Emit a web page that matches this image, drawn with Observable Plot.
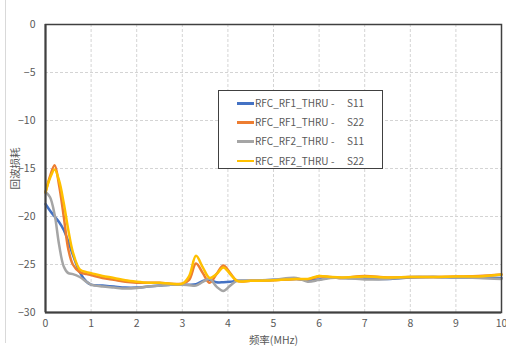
<!DOCTYPE html>
<html>
<head>
<meta charset="utf-8">
<script src="https://cdn.jsdelivr.net/npm/d3@7"></script>
<script src="https://cdn.jsdelivr.net/npm/@observablehq/plot@0.6"></script>
<style>
  html, body { margin: 0; padding: 0; background: #fff; }
  #chart { position: relative; width: 506px; height: 348px; overflow: hidden; }
  #chart .edge { position: absolute; left: 5px; top: 0; width: 1px; height: 343px; background: #d9d9d9; }
  #legend { position: absolute; left: 218px; top: 90px; width: 163px; height: 77px;
            border: 1px solid #404040; background: #fff;
            font-family: "Noto Sans CJK SC", "Noto Sans", sans-serif; font-size: 10px; color: #595959; }
  #legend .row { position: absolute; left: 0; width: 100%; height: 14px; }
  #legend .swatch { position: absolute; left: 18px; top: 6px; width: 17px; height: 2.5px; }
  #legend span { position: absolute; top: 0; line-height: 14px; white-space: pre; }
</style>
</head>
<body>
<div id="chart"><div class="edge"></div></div>
<script>
// Frequency sweep (MHz)
const freq = [0, 0.1, 0.2, 0.3, 0.4, 0.5, 0.6, 0.75, 0.9, 1, 1.25, 1.5, 1.75, 2, 2.25, 2.5, 2.75, 3,
  3.15, 3.3, 3.45, 3.6, 3.75, 3.9, 4.05, 4.2, 4.5, 5, 5.5, 5.75, 6, 6.25, 6.5, 7, 7.5, 8, 8.5, 9, 9.5, 10];

// Return loss (dB) for each port
const rf1S11 = [-18.7, -19.4, -20.0, -20.6, -21.4, -22.6, -24.0, -25.8, -26.8, -27.1, -27.2, -27.3, -27.4, -27.4, -27.3, -27.2, -27.1, -27.1,
  -27.1, -27.05, -26.7, -26.6, -26.85, -26.85, -26.8, -26.7, -26.7, -26.6, -26.5, -26.6, -26.55, -26.35, -26.4, -26.45, -26.5, -26.35, -26.3, -26.35, -26.35, -26.4];
const rf1S22 = [-17.5, -15.8, -14.65, -16.8, -20.0, -23.4, -25.0, -25.8, -26.0, -26.1, -26.4, -26.6, -26.8, -26.9, -26.9, -26.9, -27.0, -27.0,
  -26.6, -24.9, -25.9, -26.9, -26.0, -25.1, -25.9, -26.7, -26.7, -26.65, -26.5, -26.55, -26.25, -26.3, -26.4, -26.2, -26.35, -26.3, -26.3, -26.25, -26.2, -26.05];
const rf2S11 = [-17.4, -18.0, -19.8, -23.0, -25.2, -25.9, -26.0, -26.3, -26.8, -27.1, -27.3, -27.4, -27.5, -27.45, -27.3, -27.2, -27.1, -27.1,
  -27.15, -27.2, -26.8, -26.5, -27.3, -27.75, -27.2, -26.7, -26.7, -26.6, -26.4, -26.8, -26.6, -26.4, -26.4, -26.55, -26.5, -26.3, -26.3, -26.35, -26.4, -26.5];
const rf2S22 = [-17.5, -16.0, -15.1, -16.3, -18.6, -21.4, -23.7, -25.5, -25.8, -25.9, -26.2, -26.4, -26.65, -26.8, -26.9, -26.9, -27.0, -27.0,
  -26.2, -24.1, -25.3, -26.4, -26.0, -25.3, -26.0, -26.7, -26.7, -26.65, -26.5, -26.5, -26.2, -26.3, -26.35, -26.25, -26.35, -26.3, -26.3, -26.25, -26.25, -26.05];

const seriesNames = ["RFC_RF1_THRU", "RFC_RF1_THRU", "RFC_RF2_THRU", "RFC_RF2_THRU"];
const seriesParams = ["S11", "S22", "S11", "S22"];
const seriesValues = [rf1S11, rf1S22, rf2S11, rf2S22];
const seriesColors = ["#4472C4", "#ED7D31", "#A5A5A5", "#FFC000"];

const xTicks = [0, 1, 2, 3, 4, 5, 6, 7, 8, 9, 10];
const yTicks = [0, -5, -10, -15, -20, -25, -30];

// Long-format table: one row per (series, frequency)
const rows = seriesValues.flatMap((vals, i) =>
  vals.map((v, j) => ({series: i, key: seriesNames[i] + " - " + seriesParams[i], f: freq[j], rl: v})));

const font = "'Noto Sans CJK SC', 'Noto Sans', sans-serif";

const plot = Plot.plot({
  width: 506,
  height: 348,
  marginLeft: 45,
  marginRight: 5,
  marginTop: 24,
  marginBottom: 36,
  style: {fontFamily: font, fontSize: "10.5px", color: "#595959", background: "transparent"},
  x: {domain: [0, 10]},
  y: {domain: [-30, 0]},
  marks: [
    Plot.gridX(xTicks.slice(1, -1), {stroke: "#d4d4d4", strokeOpacity: 1, strokeDasharray: "3,2"}),
    Plot.gridY(yTicks.slice(1, -1), {stroke: "#d4d4d4", strokeOpacity: 1, strokeDasharray: "3,2"}),
    ...seriesValues.map((_, i) =>
      Plot.line(rows.filter(d => d.series === i), {
        x: "f", y: "rl", stroke: seriesColors[i], strokeWidth: 2.5, curve: "catmull-rom"
      })),
    Plot.frame({stroke: "#404040", strokeWidth: 1.5}),
    Plot.ruleX([0], {stroke: "#404040", strokeWidth: 2}),
    Plot.ruleY([-30], {stroke: "#404040", strokeWidth: 2}),
    Plot.axisX({ticks: xTicks, tickSize: 0, tickPadding: 7, label: "频率(MHz)", labelAnchor: "center",
      labelOffset: 31, labelArrow: "none"}),
    Plot.axisY({ticks: yTicks, tickSize: 0, tickPadding: 10, label: "回波损耗", labelAnchor: "center",
      labelOffset: 34, labelArrow: "none"})
  ]
});

const chart = document.getElementById("chart");
chart.appendChild(plot);

// Legend box drawn over the plot area
const legend = document.createElement("div");
legend.id = "legend";
seriesNames.forEach((name, i) => {
  const row = document.createElement("div");
  row.className = "row";
  row.style.top = (5 + i * 19.2) + "px";
  const sw = document.createElement("div");
  sw.className = "swatch";
  sw.style.background = seriesColors[i];
  row.appendChild(sw);
  const n = document.createElement("span"); n.textContent = name; n.style.left = "36px";
  const dash = document.createElement("span"); dash.textContent = "-"; dash.style.left = "112px";
  const p = document.createElement("span"); p.textContent = seriesParams[i]; p.style.left = "128px";
  row.append(n, dash, p);
  legend.appendChild(row);
});
chart.appendChild(legend);
</script>
</body>
</html>
